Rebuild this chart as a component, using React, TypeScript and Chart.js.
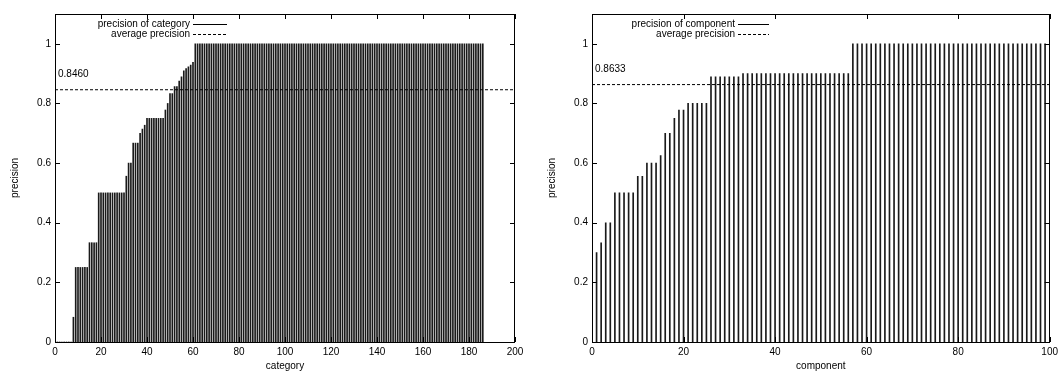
import React, { useEffect, useRef } from "react";
import { Chart, registerables } from "chart.js";

Chart.register(...registerables);

// ---------- data ----------
// precision of each category, categories 1..186 sorted by precision
const categoryPrecision: number[] = [
  0, 0, 0, 0, 0, 0, 0, 0.083,
  0.25, 0.25, 0.25, 0.25, 0.25, 0.25,
  0.333, 0.333, 0.333, 0.333,
  0.5, 0.5, 0.5, 0.5, 0.5, 0.5, 0.5, 0.5, 0.5, 0.5, 0.5, 0.5,
  0.556, 0.6, 0.6, 0.667, 0.667, 0.667,
  0.7, 0.714, 0.727,
  0.75, 0.75, 0.75, 0.75, 0.75, 0.75, 0.75, 0.75,
  0.778, 0.8, 0.833, 0.833, 0.857, 0.857, 0.875, 0.889,
  0.909, 0.917, 0.923, 0.929, 0.938,
  1, 1, 1, 1, 1, 1, 1, 1, 1, 1, 1, 1, 1, 1, 1, 1, 1, 1, 1, 1,
  1, 1, 1, 1, 1, 1, 1, 1, 1, 1, 1, 1, 1, 1, 1, 1, 1, 1, 1, 1,
  1, 1, 1, 1, 1, 1, 1, 1, 1, 1, 1, 1, 1, 1, 1, 1, 1, 1, 1, 1,
  1, 1, 1, 1, 1, 1, 1, 1, 1, 1, 1, 1, 1, 1, 1, 1, 1, 1, 1, 1,
  1, 1, 1, 1, 1, 1, 1, 1, 1, 1, 1, 1, 1, 1, 1, 1, 1, 1, 1, 1,
  1, 1, 1, 1, 1, 1, 1, 1, 1, 1, 1, 1, 1, 1, 1, 1, 1, 1, 1, 1,
  1, 1, 1, 1, 1, 1,
];

// precision of each component, components 1..99 sorted by precision
const componentPrecision: number[] = [
  0.3, 0.333, 0.4, 0.4,
  0.5, 0.5, 0.5, 0.5, 0.5,
  0.556, 0.556, 0.6, 0.6, 0.6, 0.625,
  0.7, 0.7, 0.75, 0.778, 0.778,
  0.8, 0.8, 0.8, 0.8, 0.8,
  0.889, 0.889, 0.889, 0.889, 0.889, 0.889, 0.889,
  0.9, 0.9, 0.9, 0.9, 0.9, 0.9, 0.9, 0.9, 0.9, 0.9, 0.9, 0.9,
  0.9, 0.9, 0.9, 0.9, 0.9, 0.9, 0.9, 0.9, 0.9, 0.9, 0.9, 0.9,
  1, 1, 1, 1, 1, 1, 1, 1, 1, 1, 1, 1, 1, 1, 1, 1, 1, 1, 1, 1,
  1, 1, 1, 1, 1, 1, 1, 1, 1, 1, 1, 1, 1, 1, 1, 1, 1, 1, 1, 1,
  1, 1, 1,
];

const categoryAverage = 0.846;
const componentAverage = 0.8633;
const categoryAverageLabel = "0.8460";
const componentAverageLabel = "0.8633";

const categoryXMax = 200;
const componentXMax = 100;
const xTickStep = 20;
const yMax = 1.1;
const yTickStep = 0.2;

const FONT = "'Liberation Sans', Arial, Helvetica, sans-serif";

type PanelProps = {
  values: number[];
  avg: number;
  avgLabel: string;
  xMax: number;
  xTitle: string;
  seriesLabel: string;
  yAxisWidth: number;
  padRight: number;
  yTitlePad: number;
  legendTextRight: number;
  legendLineStart: number;
  legendLineEnd: number;
  left: number;
};

function Panel(p: PanelProps) {
  const ref = useRef<HTMLCanvasElement | null>(null);

  useEffect(() => {
    if (!ref.current) return;
    const TICK = 5;
    const framePlugin = {
      id: "gnuplotFrame",
      afterDatasetsDraw(chart: any) {
        const ctx = chart.ctx;
        const a = chart.chartArea;
        const xs = chart.scales.x;
        const ys = chart.scales.y;
        ctx.save();
        ctx.strokeStyle = "#000";
        ctx.lineWidth = 1;
        // border
        ctx.strokeRect(Math.round(a.left) + 0.5, Math.round(a.top) + 0.5,
          Math.round(a.right - a.left) - 1, Math.round(a.bottom - a.top));
        // inward ticks, mirrored
        ctx.beginPath();
        xs.ticks.forEach((t: any) => {
          const x = Math.round(xs.getPixelForValue(t.value)) + 0.5;
          ctx.moveTo(x, a.bottom);
          ctx.lineTo(x, a.bottom - TICK);
          ctx.moveTo(x, a.top);
          ctx.lineTo(x, a.top + TICK);
        });
        ys.ticks.forEach((t: any) => {
          const y = Math.round(ys.getPixelForValue(t.value)) + 0.5;
          ctx.moveTo(a.left, y);
          ctx.lineTo(a.left + TICK, y);
          ctx.moveTo(a.right, y);
          ctx.lineTo(a.right - TICK, y);
        });
        ctx.stroke();

        // legend
        ctx.font = `10px ${FONT}`;
        ctx.fillStyle = "#000";
        ctx.textAlign = "right";
        ctx.textBaseline = "middle";
        const l1 = 24;
        const l2 = 34;
        ctx.fillText(p.seriesLabel, p.legendTextRight, l1);
        ctx.fillText("average precision", p.legendTextRight, l2);
        ctx.beginPath();
        ctx.moveTo(p.legendLineStart, l1 + 0.5);
        ctx.lineTo(p.legendLineEnd, l1 + 0.5);
        ctx.stroke();
        ctx.setLineDash([3, 2]);
        ctx.beginPath();
        ctx.moveTo(p.legendLineStart, l2 + 0.5);
        ctx.lineTo(p.legendLineEnd, l2 + 0.5);
        ctx.stroke();
        ctx.setLineDash([]);

        // average label
        ctx.textAlign = "left";
        ctx.fillText(p.avgLabel, a.left + 3, ys.getPixelForValue(p.avg) - 15);
        ctx.restore();
      },
    };

    const chart = new Chart(ref.current, {
      type: "bar",
      data: {
        datasets: [
          {
            type: "bar",
            label: p.seriesLabel,
            data: p.values.map((v, i) => ({ x: i + 1, y: v })),
            backgroundColor: "#1a1a1a",
            borderWidth: 0,
            barThickness: 1,
            grouped: false,
            order: 2,
          } as any,
          {
            type: "line",
            label: "average precision",
            data: [
              { x: 0, y: p.avg },
              { x: p.xMax, y: p.avg },
            ],
            borderColor: "#000",
            borderWidth: 1,
            borderDash: [3, 2],
            pointRadius: 0,
            order: 1,
          } as any,
        ],
      },
      options: {
        responsive: false,
        animation: false,
        layout: { padding: { left: 0, top: 14, right: p.padRight, bottom: 0 } },
        plugins: { legend: { display: false }, tooltip: { enabled: false } },
        scales: {
          x: {
            type: "linear",
            min: 0,
            max: p.xMax,
            offset: false,
            grid: { display: false, drawTicks: false },
            border: { display: false },
            ticks: {
              stepSize: xTickStep,
              padding: 4,
              color: "#000",
              autoSkip: false,
              maxRotation: 0,
              font: { size: 10, family: FONT },
            },
            title: {
              display: true,
              text: p.xTitle,
              color: "#000",
              font: { size: 10, family: FONT },
              padding: { top: 0, bottom: 0 },
            },
            afterFit: (s: any) => {
              s.height = 30;
            },
          },
          y: {
            min: 0,
            max: yMax,
            grid: { display: false, drawTicks: false },
            border: { display: false },
            ticks: {
              stepSize: yTickStep,
              includeBounds: false,
              padding: 4,
              color: "#000",
              font: { size: 10, family: FONT },
              callback: (v: any) => String(Math.round(Number(v) * 10) / 10),
            },
            title: {
              display: true,
              text: "precision",
              color: "#000",
              font: { size: 10, family: FONT },
              padding: { top: p.yTitlePad, bottom: 0 },
            },
            afterFit: (s: any) => {
              s.width = p.yAxisWidth;
            },
          },
        },
      } as any,
      plugins: [framePlugin],
    });
    return () => chart.destroy();
  }, []);

  return (
    <canvas
      ref={ref}
      width={531}
      height={372}
      style={{ position: "absolute", left: p.left, top: 0, width: 531, height: 372, display: "block" }}
    />
  );
}

export default function App() {
  return (
    <div style={{ position: "fixed", left: 0, top: 0, width: 1062, height: 372, background: "#fff" }}>
      <Panel
        values={categoryPrecision}
        avg={categoryAverage}
        avgLabel={categoryAverageLabel}
        xMax={categoryXMax}
        xTitle="category"
        seriesLabel="precision of category"
        yAxisWidth={55}
        padRight={16}
        yTitlePad={9}
        legendTextRight={190}
        legendLineStart={193}
        legendLineEnd={227}
        left={0}
      />
      <Panel
        values={componentPrecision}
        avg={componentAverage}
        avgLabel={componentAverageLabel}
        xMax={componentXMax}
        xTitle="component"
        seriesLabel="precision of component"
        yAxisWidth={61}
        padRight={11}
        yTitlePad={15}
        legendTextRight={204}
        legendLineStart={207}
        legendLineEnd={238}
        left={531}
      />
    </div>
  );
}
